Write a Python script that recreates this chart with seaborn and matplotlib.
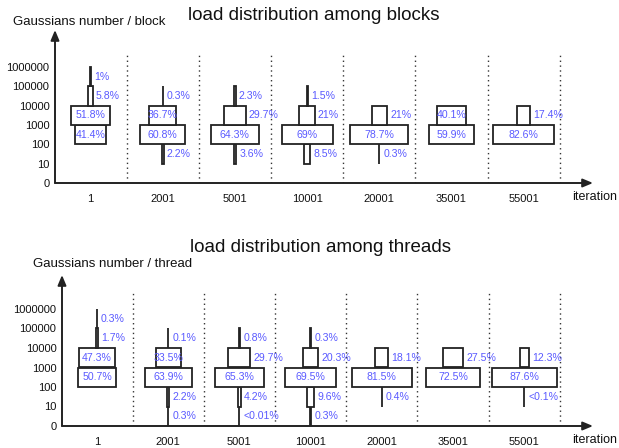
import matplotlib
matplotlib.use("Agg")
import matplotlib.pyplot as plt
import seaborn as sns


ITERATIONS = ["1", "2001", "5001", "10001", "20001", "35001", "55001"]
LEVELS = ["0", "10", "100", "1000", "10000", "100000", "1000000"]

# share (%) of blocks/threads in each band, from band 0-10 up to 100000-1000000
BLOCK_PCT = [
    [0, 0, 41.4, 51.8, 5.8, 1],
    [0, 2.2, 60.8, 36.7, 0.3, 0],
    [0, 3.6, 64.3, 29.7, 2.3, 0],
    [0, 8.5, 69, 21, 1.5, 0],
    [0, 0.3, 78.7, 21, 0, 0],
    [0, 0, 59.9, 40.1, 0, 0],
    [0, 0, 82.6, 17.4, 0, 0],
]
THREAD_PCT = [
    [0, 0, 50.7, 47.3, 1.7, 0.3],
    [0.3, 2.2, 63.9, 33.5, 0.1, 0],
    [0.01, 4.2, 65.3, 29.7, 0.8, 0],
    [0.3, 9.6, 69.5, 20.3, 0.3, 0],
    [0, 0.4, 81.5, 18.1, 0, 0],
    [0, 0, 72.5, 27.5, 0, 0],
    [0, 0.1, 87.6, 12.3, 0, 0],
]
# values given as upper bounds in the source
THREAD_LT = {(2, 0): "<0.01%", (6, 1): "<0.1%"}

W, H = 619, 448
BLUE = "#5a5aff"
PX_PER_PCT = 0.74

sns.set_style("white")
plt.rcParams["font.family"] = ["Liberation Sans", "DejaVu Sans"]

fig = plt.figure(figsize=(W / 100, H / 100), dpi=100)


def panel(pct, lt, title, ylabel, x0, dx, y0, dy, left, right, top, title_xy, ylab_xy):
    ax = fig.add_axes([left / W, 1 - y0 / H, (right - left) / W, (y0 - top) / H])
    ax.patch.set_alpha(0)
    xmin, xmax = (left - x0) / dx, (right - x0) / dx
    ymax = (y0 - top) / dy
    ax.set_xlim(xmin, xmax)
    ax.set_ylim(0, ymax)
    sns.despine(ax=ax, left=True, bottom=True)

    for k in range(len(ITERATIONS)):
        ax.vlines(k + 0.5, 0, 6.8, colors="#333333", linestyles=(0, (1, 2.5)), lw=1)

    for i, row in enumerate(pct):
        for band, v in enumerate(row):
            if v <= 0:
                continue
            w = v * PX_PER_PCT / dx
            ax.bar(i, 1, width=w, bottom=band, color="white", edgecolor="#222222",
                   lw=1.3, zorder=3)
            label = lt.get((i, band), f"{v:g}%")
            if v >= 30:
                ax.text(i, band + 0.5, label, ha="center", va="center",
                        color=BLUE, fontsize=7.6, zorder=4)
            else:
                xl = i + max(w / 2, 1 / dx) + 3 / dx
                ax.text(xl, band + 0.5, label, ha="left", va="center",
                        color=BLUE, fontsize=7.6, zorder=4)

    arrow = dict(arrowstyle="-|>,head_length=0.6,head_width=0.25", color="#222222",
                 lw=1.4, shrinkA=0, shrinkB=0)
    ax.annotate("", xy=(xmax, 0), xytext=(xmin, 0), arrowprops=arrow, annotation_clip=False)
    ax.annotate("", xy=(xmin, ymax), xytext=(xmin, 0), arrowprops=arrow, annotation_clip=False)

    ax.set_xticks(range(len(ITERATIONS)), ITERATIONS)
    ax.set_yticks(range(len(LEVELS)), LEVELS)
    ax.tick_params(axis="both", length=0, labelsize=8, colors="#111111")
    ax.tick_params(axis="x", pad=8)
    ax.tick_params(axis="y", pad=4)

    fig.text(title_xy[0] / W, 1 - title_xy[1] / H, title, ha="center", va="center",
             fontsize=13.5, color="#111111")
    fig.text(ylab_xy[0] / W, 1 - ylab_xy[1] / H, ylabel, ha="left", va="center",
             fontsize=9.5, color="#111111")
    fig.text(572 / W, 1 - (y0 + 14) / H, "iteration", ha="left", va="center",
             fontsize=9, color="#111111")


panel(BLOCK_PCT, {}, "load distribution among blocks", "Gaussians number / block",
      x0=90.5, dx=72.2, y0=183, dy=19.3, left=55, right=593, top=30,
      title_xy=(314, 16), ylab_xy=(13, 22))
panel(THREAD_PCT, THREAD_LT, "load distribution among threads", "Gaussians number / thread",
      x0=97, dx=71.2, y0=426, dy=19.5, left=62, right=593, top=275,
      title_xy=(321, 247), ylab_xy=(33, 264))

fig.savefig("out.png", dpi=100)
